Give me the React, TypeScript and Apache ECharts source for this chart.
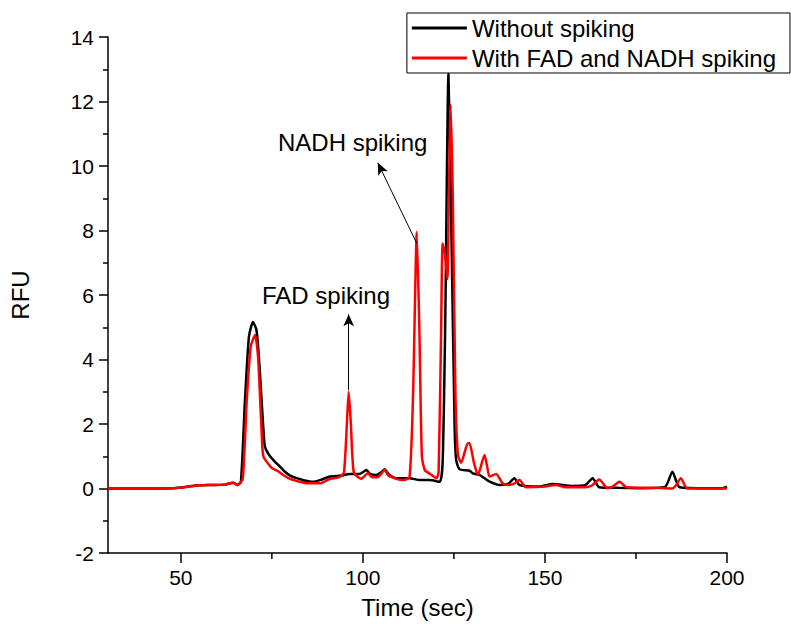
import React, { useEffect, useRef } from "react";
import * as echarts from "echarts";

const seriesNames = ["Without spiking", "With FAD and NADH spiking"];

const withoutSpiking: [number, number][] = [
  [30, 0.0], [40, 0.0], [48, 0.01], [50, 0.03], [52, 0.06], [55, 0.1], [58, 0.11], [62, 0.12],
  [64.4, 0.18], [65.5, 0.12], [66.5, 0.2], [67.6, 2.7], [68.7, 4.7], [69.8, 5.16], [70.8, 4.9],
  [71.6, 3.8], [72.2, 2.7], [72.7, 1.8], [73.1, 1.3], [74.5, 1.0], [76.3, 0.78], [77.5, 0.65],
  [78.6, 0.52], [80, 0.4], [81.8, 0.32], [84, 0.25], [86.3, 0.21], [88.2, 0.26], [91, 0.37],
  [94, 0.4], [96.4, 0.45], [99, 0.45], [101, 0.57], [102, 0.45], [103.7, 0.42], [105, 0.5],
  [106, 0.6], [107, 0.45], [109.2, 0.32], [112.8, 0.32], [115.6, 0.26], [118.3, 0.26],
  [121.1, 0.21], [121.9, 0.8], [122.6, 5], [123.5, 12.85], [124.3, 8], [125.2, 1.9], [125.6, 0.9],
  [126.5, 0.6], [129.3, 0.55], [130.2, 0.47], [132, 0.42], [133, 0.35], [134.8, 0.21],
  [137.5, 0.11], [140, 0.15], [141.6, 0.32], [143, 0.11], [148.5, 0.06], [152.1, 0.14],
  [157.6, 0.08], [161, 0.1], [163.1, 0.32], [164.9, 0.04], [170, 0.02], [175.9, 0.01],
  [183, 0.05], [185, 0.52], [187, 0.04], [195, 0.01], [198.8, 0.01], [200, 0.06],
];

const withSpiking: [number, number][] = [
  [30, 0], [40, 0], [48, 0.01], [50, 0.03], [52, 0.06], [55, 0.1], [58, 0.11], [62, 0.12],
  [64.4, 0.18], [65.5, 0.1], [67, 0.3], [68.1, 2.74], [69.2, 4.4], [70.4, 4.76], [71.2, 4.1],
  [71.8, 2.74], [72.3, 1.5], [72.7, 0.99], [75, 0.63], [76.5, 0.55], [78.1, 0.42], [80, 0.3],
  [82.7, 0.21], [85, 0.16], [88.2, 0.16], [91, 0.3], [93.5, 0.35], [94.8, 0.5], [95.6, 2.0],
  [96.1, 3.0], [96.7, 2.0], [97.5, 0.5], [99.5, 0.3], [101.4, 0.47], [102.5, 0.35], [104, 0.35],
  [106, 0.57], [107, 0.4], [109.2, 0.3], [110.9, 0.26], [112.8, 0.35], [113.8, 3], [114.8, 7.95],
  [115.5, 5], [116.2, 1], [117, 0.57], [118.5, 0.45], [120.2, 0.32], [120.8, 0.5], [121.5, 5],
  [121.9, 7.6], [122.5, 7.3], [123.2, 6.5], [123.6, 9], [124.1, 11.9], [124.7, 9], [125.4, 3],
  [126.1, 1.04], [127, 0.8], [128.8, 1.4], [129.3, 1.4], [130.5, 0.8], [131.6, 0.42],
  [133.4, 1.04], [134.1, 0.7], [134.8, 0.37], [136.6, 0.45], [138.4, 0.16], [140.2, 0.11],
  [141.5, 0.15], [143, 0.26], [144.8, 0.04], [150, 0.06], [153, 0.11], [155.7, 0.04],
  [161.2, 0.04], [163, 0.1], [164.9, 0.28], [167.2, 0.01], [168.5, 0.05], [170.5, 0.21],
  [172.4, 0.04], [180, 0.02], [185, 0.0], [186, 0.1], [187.3, 0.32], [189.1, 0], [195, 0], [200, 0],
];

const xMajorTicks = [50, 100, 150, 200];
const xMinorTicks = [75, 125, 175];
const yMin = -2;

// annotation arrows in data coordinates: [fromX, fromY, toX, toY]
const nadhArrow = [114.8, 7.6, 104.1, 10.1];
const fadArrow = [96.1, 3.05, 96.1, 5.4];
const annotationTexts = ["NADH spiking", "FAD spiking"];

const FONT = "'Liberation Sans', Arial, sans-serif";
const GRID = { left: 108, right: 64, top: 37, bottom: 79 };

export default function App() {
  const ref = useRef<HTMLDivElement>(null);
  useEffect(() => {
    document.body.style.margin = "0";
    if (!ref.current) return;
    const chart = echarts.init(ref.current, undefined, { renderer: "svg" });
    const axisLineStyle = { color: "#000", width: 1.5 };
    chart.setOption({
      animation: false,
      backgroundColor: "#fff",
      grid: GRID,
      legend: {
        orient: "vertical",
        right: 1,
        top: 13,
        padding: [2, 14, 2, 5],
        borderColor: "#000",
        borderWidth: 1,
        icon: "rect",
        itemWidth: 55,
        itemHeight: 3,
        itemGap: 4,
        data: seriesNames,
        textStyle: { fontFamily: FONT, fontSize: 24, color: "#000", lineHeight: 26 },
      },
      xAxis: {
        type: "value",
        min: 30,
        max: 200,
        position: "bottom",
        name: "Time (sec)",
        nameLocation: "middle",
        nameGap: 42,
        nameTextStyle: { fontFamily: FONT, fontSize: 24, color: "#000" },
        axisLine: { onZero: false, lineStyle: axisLineStyle },
        axisTick: { show: true, customValues: xMajorTicks, length: 10, lineStyle: axisLineStyle },
        axisLabel: { customValues: xMajorTicks, fontFamily: FONT, fontSize: 21, color: "#000", margin: 14 },
        splitLine: { show: false },
      },
      yAxis: {
        type: "value",
        min: yMin,
        max: 14,
        interval: 2,
        name: "RFU",
        nameLocation: "middle",
        nameGap: 76,
        nameTextStyle: { fontFamily: FONT, fontSize: 24, color: "#000" },
        axisLine: { show: true, onZero: false, lineStyle: axisLineStyle },
        axisTick: { show: true, length: 9, lineStyle: axisLineStyle },
        minorTick: { show: true, splitNumber: 2, length: 5, lineStyle: axisLineStyle },
        axisLabel: { fontFamily: FONT, fontSize: 21, color: "#000", margin: 14 },
        splitLine: { show: false },
      },
      series: [
        {
          name: seriesNames[0],
          type: "line",
          data: withoutSpiking,
          symbol: "none",
          smooth: 0.2,
          lineStyle: { color: "#000", width: 2.5 },
          itemStyle: { color: "#000" },
          z: 2,
        },
        {
          name: seriesNames[1],
          type: "line",
          data: withSpiking,
          symbol: "none",
          smooth: 0.2,
          lineStyle: { color: "#ff0000", width: 2.5 },
          itemStyle: { color: "#ff0000" },
          z: 3,
          markLine: {
            silent: true,
            symbol: ["none", "arrow"],
            symbolSize: [8, 12],
            label: { show: false },
            lineStyle: { color: "#000", width: 1, type: "solid" },
            itemStyle: { color: "#000" },
            emphasis: { disabled: true },
            data: [
              [
                { coord: [nadhArrow[0], nadhArrow[1]] },
                { coord: [nadhArrow[2], nadhArrow[3]] },
              ],
              [
                { coord: [fadArrow[0], fadArrow[1]] },
                { coord: [fadArrow[2], fadArrow[3]] },
              ],
            ],
          },
        },
        {
          // minor x-axis ticks, positioned through the x scale
          name: "minorTicks",
          type: "custom",
          silent: true,
          clip: false,
          data: xMinorTicks.map((v) => [v, yMin]),
          encode: { x: 0, y: 1 },
          renderItem: (_params: any, api: any) => {
            const p = api.coord([api.value(0), yMin]);
            return {
              type: "line",
              shape: { x1: p[0], y1: p[1], x2: p[0], y2: p[1] + 6 },
              style: { stroke: "#000", lineWidth: 1.5 },
            };
          },
          z: 5,
        },
      ],
      graphic: [
        {
          type: "text",
          left: 278,
          top: 130,
          style: { text: annotationTexts[0], font: `24px ${FONT}`, fill: "#000" },
        },
        {
          type: "text",
          left: 262,
          top: 283,
          style: { text: annotationTexts[1], font: `24px ${FONT}`, fill: "#000" },
        },
      ],
    });
    return () => chart.dispose();
  }, []);
  return <div ref={ref} style={{ width: 791, height: 632 }} />;
}
